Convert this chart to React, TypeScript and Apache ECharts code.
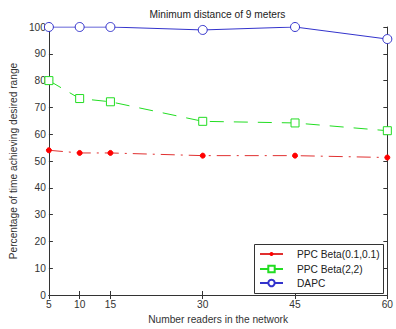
import React, { useEffect, useRef } from "react";
import * as echarts from "echarts";

const xValues = [5, 10, 15, 30, 45, 60];
const ppc01 = [54, 53, 53, 52, 52, 51.3];
const ppc22 = [80, 73.3, 72.1, 64.8, 64.2, 61.3];
const dapc = [100, 100, 100, 98.9, 100, 95.5];
const seriesNames = ["PPC Beta(0.1,0.1)", "PPC Beta(2,2)", "DAPC"];

export default function App() {
  const ref = useRef<HTMLDivElement>(null);
  useEffect(() => {
    const chart = echarts.init(ref.current!, null, { renderer: "svg" });
    const font = "Liberation Sans, Arial, sans-serif";
    const fs = 10.2;
    const axisColor = "#333";
    const pair = (arr: number[]) => xValues.map((x, i) => [x, arr[i]]);
    const legendCenters = [254, 269, 283];
    const legendSizes = [5, 8, 8];
    const legends = seriesNames.map((name, i) => ({
      orient: "vertical",
      left: 259,
      top: legendCenters[i] - 7,
      padding: 0,
      itemWidth: 23,
      itemHeight: legendSizes[i],
      z: 5,
      textStyle: {
        fontSize: fs,
        color: "#222",
        fontFamily: font,
        lineHeight: 14,
        padding: [0, 0, 0, 9],
      },
      data: [{ name, lineStyle: { type: "solid" } }],
    }));
    chart.setOption({
      animation: false,
      backgroundColor: "#fff",
      title: {
        text: "Minimum distance of 9 meters",
        left: 217.5,
        textAlign: "center",
        top: 9,
        padding: 0,
        textStyle: { fontSize: fs, fontWeight: "normal", color: "#222", fontFamily: font },
      },
      grid: { left: 46, right: 4, top: 27, bottom: 31, containLabel: false },
      graphic: [
        {
          type: "rect",
          left: 254,
          top: 244,
          z: 3,
          shape: { width: 129, height: 49 },
          style: { fill: "#fff", stroke: "#333", lineWidth: 1 },
        },
      ],
      legend: legends,
      xAxis: [
        {
          type: "value",
          min: 5,
          max: 60,
          name: "Number readers in the network",
          nameLocation: "middle",
          nameGap: 19,
          nameTextStyle: { fontSize: fs, color: "#333", fontFamily: font },
          axisLine: { lineStyle: { color: axisColor } },
          axisTick: { inside: true, length: 4, customValues: xValues, lineStyle: { color: axisColor } },
          axisLabel: { customValues: xValues, fontSize: fs, color: "#333", fontFamily: font, margin: 4 },
          splitLine: { show: false },
        },
        {
          type: "value",
          position: "top",
          min: 5,
          max: 60,
          axisLine: { lineStyle: { color: axisColor } },
          axisTick: { inside: true, length: 4, customValues: xValues, lineStyle: { color: axisColor } },
          axisLabel: { show: false },
          splitLine: { show: false },
        },
      ],
      yAxis: [
        {
          type: "value",
          min: 0,
          max: 100,
          interval: 10,
          name: "Percentage of time achieving desired range",
          nameLocation: "middle",
          nameGap: 28,
          nameTextStyle: { fontSize: fs, color: "#333", fontFamily: font },
          axisLine: { show: true, lineStyle: { color: axisColor } },
          axisTick: { show: true, inside: true, length: 4, lineStyle: { color: axisColor } },
          axisLabel: { fontSize: fs, color: "#333", fontFamily: font, margin: 3 },
          splitLine: { show: false },
        },
        {
          type: "value",
          position: "right",
          min: 0,
          max: 100,
          interval: 10,
          axisLine: { show: true, lineStyle: { color: axisColor } },
          axisTick: { show: true, inside: true, length: 4, lineStyle: { color: axisColor } },
          axisLabel: { show: false },
          splitLine: { show: false },
        },
      ],
      series: [
        {
          name: seriesNames[0],
          type: "line",
          data: pair(ppc01),
          symbol: "circle",
          symbolSize: 5,
          itemStyle: { color: "#f00", borderColor: "#f00" },
          lineStyle: { color: "#e03030", width: 1, type: [14, 6, 2, 6] },
        },
        {
          name: seriesNames[1],
          type: "line",
          data: pair(ppc22),
          symbol: "rect",
          symbolSize: 8,
          itemStyle: { color: "#fff", borderColor: "#22dd22", borderWidth: 1 },
          lineStyle: { color: "#22dd22", width: 1, type: [14, 10] },
        },
        {
          name: seriesNames[2],
          type: "line",
          data: pair(dapc),
          symbol: "circle",
          symbolSize: 9,
          itemStyle: { color: "#fff", borderColor: "#3333cc", borderWidth: 1 },
          lineStyle: { color: "#3333cc", width: 1, type: "solid" },
        },
      ],
    });
    return () => chart.dispose();
  }, []);
  return (
    <div
      ref={ref}
      style={{ position: "fixed", left: 0, top: 0, width: 396, height: 329 }}
    />
  );
}
